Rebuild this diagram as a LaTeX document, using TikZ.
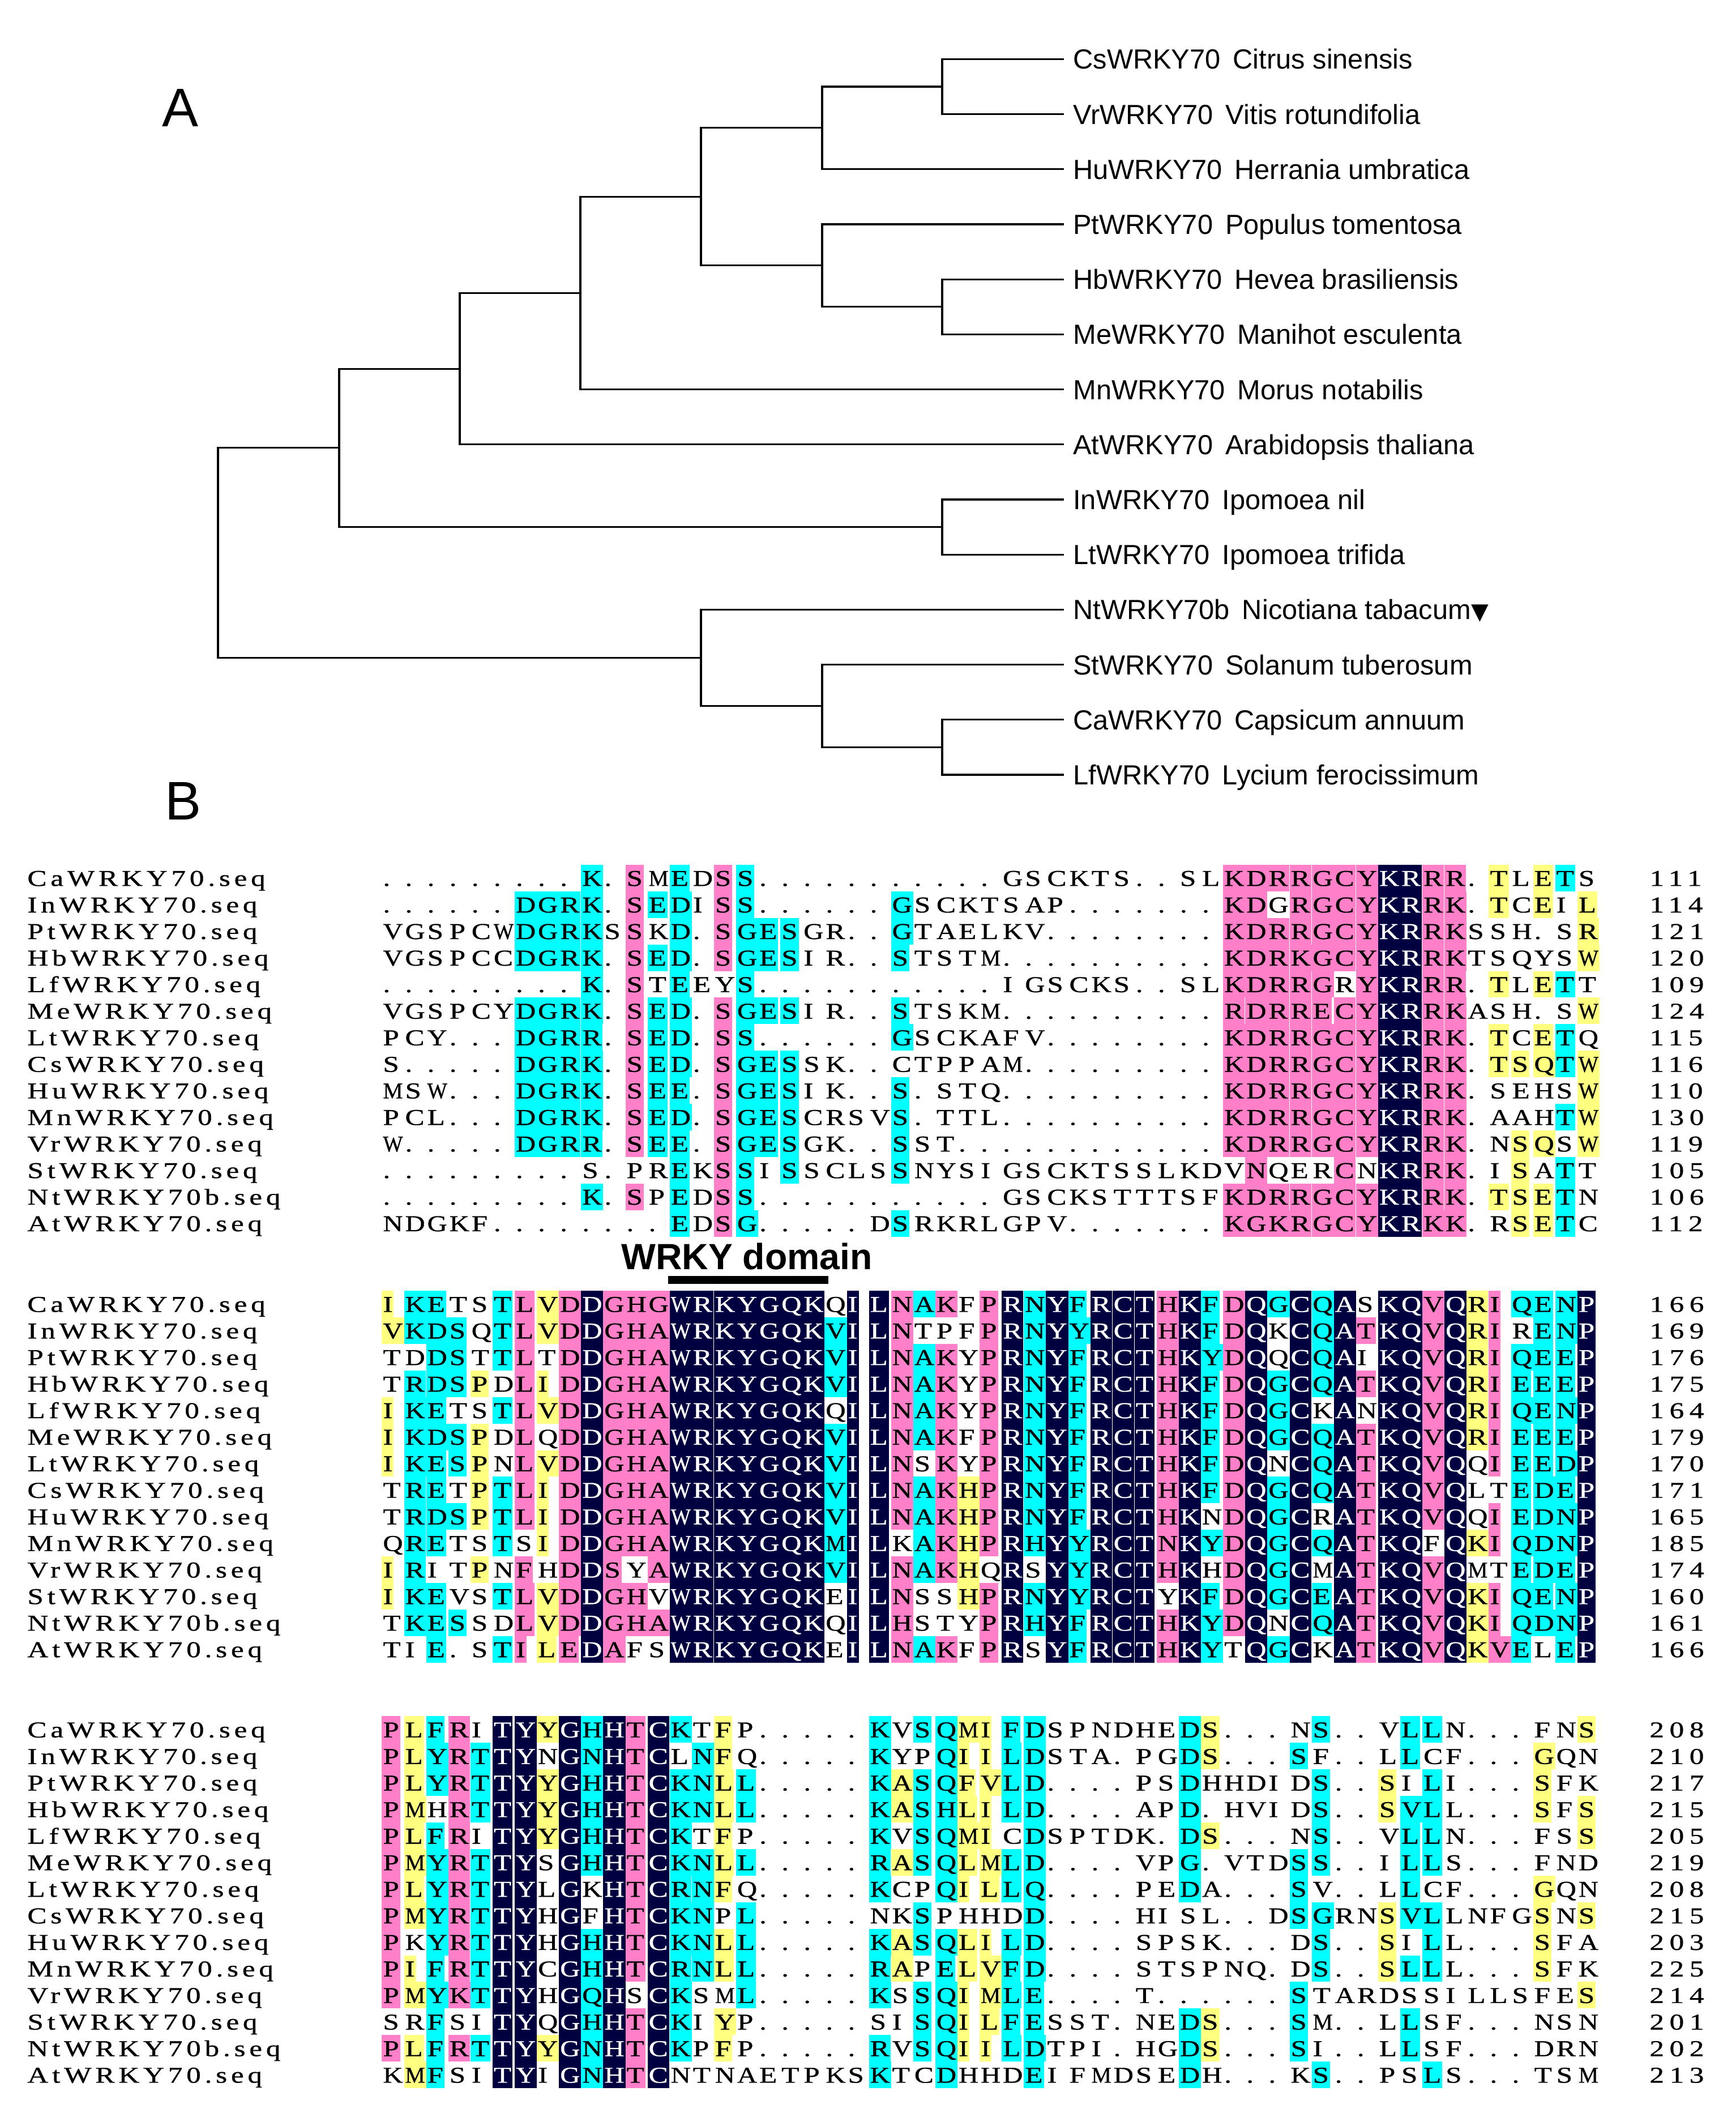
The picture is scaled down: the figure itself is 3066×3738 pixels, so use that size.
\documentclass[tikz,border=0pt]{standalone}
\usepackage{fontspec}
\setmainfont{Liberation Sans}
\newfontfamily\alfont[FakeStretch=1.28,FakeBold=0.8]{Liberation Serif}
\newfontfamily\alnamefont[FakeStretch=1.28,LetterSpace=17,FakeBold=0.8]{Liberation Serif}
\newfontfamily\alnumfont[FakeStretch=1.28,LetterSpace=24,FakeBold=0.8]{Liberation Serif}
\newfontfamily\symfont{DejaVu Sans}
\definecolor{aln}{RGB}{0,0,64}
\definecolor{alp}{RGB}{255,128,200}
\definecolor{alc}{RGB}{0,255,255}
\definecolor{aly}{RGB}{255,255,128}

\ExplSyntaxOn
\dim_new:N \l__al_colw_dim
\dim_new:N \l__al_bgw_dim
\box_new:N \l__al_glyph_box
\str_new:N \l__al_let_str
\str_new:N \l__al_cod_str
\dim_set:Nn \l__al_colw_dim { 19.55pt }
\cs_new_protected:Npn \__al_cell:nn #1#2
  {
    \hbox_set:Nn \l__al_glyph_box { #2 }
    \dim_compare:nNnT { \box_wd:N \l__al_glyph_box } > { 0.92 \l__al_colw_dim }
      {
        \box_scale:Nnn \l__al_glyph_box
          { \fp_eval:n { 0.90 * \dim_to_fp:n { \l__al_colw_dim } / \dim_to_fp:n { \box_wd:N \l__al_glyph_box } } }
          { 1 }
      }
    \dim_set:Nn \l__al_bgw_dim
      { \dim_min:nn { \box_wd:N \l__al_glyph_box + 2pt } { \l__al_colw_dim } }
    \hbox_to_wd:nn { \l__al_colw_dim }
      {
        \str_if_eq:nnF {#1} { - }
          {
            \group_begin:
            \color{al#1}
            \rule[-4.8pt]{\l__al_bgw_dim}{23.45pt}
            \group_end:
            \skip_horizontal:n { -\l__al_bgw_dim }
          }
        \skip_horizontal:n { 1pt }
        \group_begin:
        \str_if_eq:nnTF {#1} { n } { \color{white} } { \color{black} }
        \box_use:N \l__al_glyph_box
        \group_end:
        \hfil
      }
  }
\cs_generate_variant:Nn \__al_cell:nn { ee }
\NewDocumentCommand \alcells { m m }
  {
    \str_set:Nn \l__al_let_str {#1}
    \str_set:Nn \l__al_cod_str {#2}
    \str_remove_all:Nn \l__al_let_str { | }
    \str_remove_all:Nn \l__al_cod_str { | }
    \int_step_inline:nn { \str_count:N \l__al_let_str }
      {
        \__al_cell:ee { \str_item:Nn \l__al_cod_str {##1} } { \str_item:Nn \l__al_let_str {##1} }
      }
  }
\ExplSyntaxOff

\tikzset{
  br/.style={line width=1.6pt},
  leaf/.style={anchor=west, inner xsep=8pt, inner ysep=0pt, text height=17.5pt, text depth=0pt, font=\fontsize{24.4pt}{28pt}\selectfont},
  panel/.style={anchor=base west, inner sep=0pt, font=\fontsize{48pt}{56pt}\selectfont},
  alname/.style={anchor=base west, inner sep=0pt, font=\alnamefont\fontsize{20pt}{24pt}\selectfont},
  alseq/.style={anchor=base west, inner sep=0pt, font=\alfont\fontsize{20pt}{24pt}\selectfont},
  alnum/.style={anchor=base west, inner sep=0pt, font=\alnumfont\fontsize{20pt}{24pt}\selectfont},
  domaintext/.style={anchor=base west, inner sep=0pt, font=\bfseries\fontsize{32.2pt}{36pt}\selectfont},
  domainbar/.style={line width=7pt},
}
\newcommand\alrow[7]{%
  \node[alname] (nm#1#3) at (48,{#2+46.9*#3}) {#4};
  \node[alseq] (sq#1#3) at (674,{#2+46.9*#3}) {\alcells{#5}{#6}};
  \node[alnum] (nu#1#3) at (2913,{#2+46.9*#3}) {#7};
}
\def\ba{1564.2}
\def\bb{2316.4}
\def\bc{3067.7}
\newcommand\spgap{\hspace{0.45em}}

\begin{document}
\begin{tikzpicture}[x=0.5pt,y=-0.5pt]
\useasboundingbox (0,0) rectangle (3066,3738);
\fill[white] (0,0) rectangle (3066,3738);

% ---------------- Panel A: tree ----------------
\node[panel] (labA) at (286,223) {A};
\node[leaf] (Cs) at (1879,104.3) {CsWRKY70\spgap Citrus sinensis};
\node[leaf] (Vr) at (1879,201.5) {VrWRKY70\spgap Vitis rotundifolia};
\node[leaf] (Hu) at (1879,298.7) {HuWRKY70\spgap Herrania umbratica};
\node[leaf] (Pt) at (1879,395.9) {PtWRKY70\spgap Populus tomentosa};
\node[leaf] (Hb) at (1879,493.1) {HbWRKY70\spgap Hevea brasiliensis};
\node[leaf] (Me) at (1879,590.3) {MeWRKY70\spgap Manihot esculenta};
\node[leaf] (Mn) at (1879,687.5) {MnWRKY70\spgap Morus notabilis};
\node[leaf] (At) at (1879,784.7) {AtWRKY70\spgap Arabidopsis thaliana};
\node[leaf] (In) at (1879,881.9) {InWRKY70\spgap Ipomoea nil};
\node[leaf] (Lt) at (1879,979.1) {LtWRKY70\spgap Ipomoea trifida};
\node[leaf] (Nt) at (1879,1076.3) {NtWRKY70b\spgap Nicotiana tabacum{\symfont\fontsize{20pt}{24pt}\selectfont ▼}};
\node[leaf] (St) at (1879,1173.5) {StWRKY70\spgap Solanum tuberosum};
\node[leaf] (Ca) at (1879,1270.7) {CaWRKY70\spgap Capsicum annuum};
\node[leaf] (Lf) at (1879,1367.9) {LfWRKY70\spgap Lycium ferocissimum};

\coordinate (nCsVr) at (1664,152.9);
\coordinate (nCsVrHu) at (1452,225.8);
\coordinate (nHbMe) at (1664,541.7);
\coordinate (nPtHbMe) at (1452,468.8);
\coordinate (nA) at (1238,347.3);
\coordinate (nB) at (1025,517.4);
\coordinate (nC) at (812,651.1);
\coordinate (nInLt) at (1664,930.5);
\coordinate (nD) at (599,790.8);
\coordinate (nCaLf) at (1664,1319.3);
\coordinate (nStCaLf) at (1452,1246.4);
\coordinate (nNt) at (1238,1161.4);
\coordinate (root) at (385,976.1);

\draw[br] (nCsVr) |- (Cs.west);
\draw[br] (nCsVr) |- (Vr.west);
\draw[br] (nCsVrHu) |- (nCsVr);
\draw[br] (nCsVrHu) |- (Hu.west);
\draw[br] (nHbMe) |- (Hb.west);
\draw[br] (nHbMe) |- (Me.west);
\draw[br] (nPtHbMe) |- (Pt.west);
\draw[br] (nPtHbMe) |- (nHbMe);
\draw[br] (nA) |- (nCsVrHu);
\draw[br] (nA) |- (nPtHbMe);
\draw[br] (nB) |- (nA);
\draw[br] (nB) |- (Mn.west);
\draw[br] (nC) |- (nB);
\draw[br] (nC) |- (At.west);
\draw[br] (nInLt) |- (In.west);
\draw[br] (nInLt) |- (Lt.west);
\draw[br] (nD) |- (nC);
\draw[br] (nD) |- (nInLt);
\draw[br] (nCaLf) |- (Ca.west);
\draw[br] (nCaLf) |- (Lf.west);
\draw[br] (nStCaLf) |- (St.west);
\draw[br] (nStCaLf) |- (nCaLf);
\draw[br] (nNt) |- (Nt.west);
\draw[br] (nNt) |- (nStCaLf);
\draw[br] (root) |- (nD);
\draw[br] (root) |- (nNt);

% ---------------- Panel B: alignment ----------------
\node[panel] (labB) at (291,1447) {B};

\alrow{a}{\ba}{0}{CaWRKY70.seq}{.........K|.SMEDSS...|........GS|CKTS..SLKD|RRGCYKRRR.|TLETS}{---------c|-p-c-pc---|----------|--------pp|pppppnnpp-|y-yc-}{111}
\alrow{a}{\ba}{1}{InWRKY70.seq}{......DGRK|.SEDISS...|...GSCKTSA|P.......KD|GRGCYKRRK.|TCEIL}{------cccc|-pcc-pc---|---c------|--------pp|-ppppnnpp-|y-y-y}{114}
\alrow{a}{\ba}{2}{PtWRKY70.seq}{VGSPCWDGRK|SSKD.SGESG|R..GTAELKV|........KD|RRGCYKRRKS|SH.SR}{------cccc|-p-c-pccc-|---c------|--------pp|pppppnnpp-|----y}{121}
\alrow{a}{\ba}{3}{HbWRKY70.seq}{VGSPCCDGRK|.SED.SGESI|R..STSTM..|........KD|RKGCYKRRKT|SQYSW}{------cccc|-pcc-pccc-|---c------|--------pp|pppppnnpp-|----y}{120}
\alrow{a}{\ba}{4}{LfWRKY70.seq}{.........K|.STEEYS...|........IG|SCKS..SLKD|RRGRYKRRR.|TLETT}{---------c|-p-c--c---|----------|--------pp|ppp-pnnpp-|y-yc-}{109}
\alrow{a}{\ba}{5}{MeWRKY70.seq}{VGSPCYDGRK|.SED.SGESI|R..STSKM..|........RD|RRECYKRRKA|SH.SW}{------cccc|-pcc-pccc-|---c------|--------pp|pppppnnpp-|----y}{124}
\alrow{a}{\ba}{6}{LtWRKY70.seq}{PCY...DGRR|.SED.SS...|...GSCKAFV|........KD|RRGCYKRRK.|TCETQ}{------cccc|-pcc-pc---|---c------|--------pp|pppppnnpp-|y-yc-}{115}
\alrow{a}{\ba}{7}{CsWRKY70.seq}{S.....DGRK|.SED.SGESS|K..CTPPAM.|........KD|RRGCYKRRK.|TSQTW}{------cccc|-pcc-pccc-|----------|--------pp|pppppnnpp-|yyycy}{116}
\alrow{a}{\ba}{8}{HuWRKY70.seq}{MSW...DGRK|.SEE.SGESI|K..S.STQ..|........KD|RRGCYKRRK.|SEHSW}{------cccc|-pcc-pccc-|---c------|--------pp|pppppnnpp-|----y}{110}
\alrow{a}{\ba}{9}{MnWRKY70.seq}{PCL...DGRK|.SED.SGESC|RSVS.TTL..|........KD|RRGCYKRRK.|AAHTW}{------cccc|-pcc-pccc-|---c------|--------pp|pppppnnpp-|---cy}{130}
\alrow{a}{\ba}{10}{VrWRKY70.seq}{W.....DGRR|.SEE.SGESG|K..SST....|........KD|RRGCYKRRK.|NSQSW}{------cccc|-pcc-pccc-|---c------|--------pp|pppppnnpp-|-yy-y}{119}
\alrow{a}{\ba}{11}{StWRKY70.seq}{.........S|.PREKSSISS|CLSSNYSIGS|CKTSSLKDVN|QERCNKRRK.|ISATT}{----------|---c-pc-c-|---c------|---------p|---p-nnpp-|-y-c-}{105}
\alrow{a}{\ba}{12}{NtWRKY70b.seq}{.........K|.SPEDSS...|........GS|CKSTTTSFKD|RRGCYKRRK.|TSETN}{---------c|-p-c-pc---|----------|--------pp|pppppnnpp-|yyyc-}{106}
\alrow{a}{\ba}{13}{AtWRKY70.seq}{NDGKF.....|...EDSG...|..DSRKRLGP|V.......KG|KRGCYKRKK.|RSETC}{----------|---c-pc---|---c------|--------pp|pppppnnpp-|-yyc-}{112}

\node[domaintext] (wrky) at (1097,2241) {WRKY domain};
\coordinate (barL) at (1180,2260);
\coordinate (barR) at (1463,2260);
\draw[domainbar] (barL) -- (barR);

\alrow{b}{\bb}{0}{CaWRKY70.seq}{IKETSTLVDD|GHGWRKYGQK|QILNAKFPRN|YFRCTHKFDQ|GCQASKQVQR|IQENP}{ycc--cpypn|pppnnnnnnn|-nnpcp-pnc|ncnnnpncpn|cncn-nnpny|pcccn}{166}
\alrow{b}{\bb}{1}{InWRKY70.seq}{VKDSQTLVDD|GHAWRKYGQK|VILNTPFPRN|YYRCTHKFDQ|KCQATKQVQR|IRENP}{yccc-cpypn|pppnnnnnnn|cnnp---pnc|ncnnnpncpn|-ncnpnnpny|p-ccn}{169}
\alrow{b}{\bb}{2}{PtWRKY70.seq}{TDDSTTLTDD|GHAWRKYGQK|VILNAKYPRN|YFRCTHKYDQ|QCQAIKQVQR|IQEEP}{--cc-cp-pn|pppnnnnnnn|cnnpcp-pnc|ncnnnpncpn|-ncn-nnpny|pcccn}{176}
\alrow{b}{\bb}{3}{HbWRKY70.seq}{TRDSPDLIDD|GHAWRKYGQK|VILNAKYPRN|YFRCTHKFDQ|GCQATKQVQR|IEEEP}{-cccy-pypn|pppnnnnnnn|cnnpcp-pnc|ncnnnpncpn|cncnpnnpny|pcccn}{175}
\alrow{b}{\bb}{4}{LfWRKY70.seq}{IKETSTLVDD|GHAWRKYGQK|QILNAKYPRN|YFRCTHKFDQ|GCKANKQVQR|IQENP}{ycc--cpypn|pppnnnnnnn|-nnpcp-pnc|ncnnnpncpn|cn-n-nnpny|pcccn}{164}
\alrow{b}{\bb}{5}{MeWRKY70.seq}{IKDSPDLQDD|GHAWRKYGQK|VILNAKFPRN|YFRCTHKFDQ|GCQATKQVQR|IEEEP}{ycccy-p-pn|pppnnnnnnn|cnnpcp-pnc|ncnnnpncpn|cncnpnnpny|pcccn}{179}
\alrow{b}{\bb}{6}{LtWRKY70.seq}{IKESPNLVDD|GHAWRKYGQK|VILNSKYPRN|YFRCTHKFDQ|NCQATKQVQQ|IEEDP}{ycccy-pypn|pppnnnnnnn|cnnp-p-pnc|ncnnnpncpn|-ncnpnnpn-|pcccn}{170}
\alrow{b}{\bb}{7}{CsWRKY70.seq}{TRETPTLIDD|GHAWRKYGQK|VILNAKHPRN|YFRCTHKFDQ|GCQATKQVQL|TEDEP}{-cc-ycpypn|pppnnnnnnn|cnnpcpypnc|ncnnnpncpn|cncnpnnpn-|-cccn}{171}
\alrow{b}{\bb}{8}{HuWRKY70.seq}{TRDSPTLIDD|GHAWRKYGQK|VILNAKHPRN|YFRCTHKNDQ|GCRATKQVQQ|IEDNP}{-cccycpypn|pppnnnnnnn|cnnpcpypnc|ncnnnpn-pn|cn-npnnpn-|pcccn}{165}
\alrow{b}{\bb}{9}{MnWRKY70.seq}{QRETSTSIDD|GHAWRKYGQK|MILKAKHPRH|YYRCTNKYDQ|GCQATKQFQK|IQDNP}{-cc--c-ypn|pppnnnnnnn|cnn-cpypnc|ncnnnpncpn|cncnpnn-ny|pcccn}{185}
\alrow{b}{\bb}{10}{VrWRKY70.seq}{IRITPNFHDD|SYAWRKYGQK|VILNAKHQRS|YYRCTHKHDQ|GCMATKQVQM|TEDEP}{yc--y-p-pn|p-pnnnnnnn|cnnpcpy-n-|ncnnnpn-pn|cn-npnnpn-|-cccn}{174}
\alrow{b}{\bb}{11}{StWRKY70.seq}{IKEVSTLVDD|GHVWRKYGQK|EILNSSHPRN|YYRCTYKFDQ|GCEATKQVQK|IQENP}{ycc--cpypn|pp-nnnnnnn|-nnp--ypnc|ncnnn-ncpn|cncnpnnpny|pcccn}{160}
\alrow{b}{\bb}{12}{NtWRKY70b.seq}{TKESSDLVDD|GHAWRKYGQK|QILHSTYPRH|YFRCTHKYDQ|NCQATKQVQK|IQDNP}{-ccc--pypn|pppnnnnnnn|-nnp---pnc|ncnnnpncpn|-ncnpnnpny|pcccn}{161}
\alrow{b}{\bb}{13}{AtWRKY70.seq}{TIE.STILED|AFSWRKYGQK|EILNAKFPRS|YFRCTHKYTQ|GCKATKQVQK|VELEP}{--c--cpypn|p--nnnnnnn|-nnpcp-pn-|ncnnnpnc-n|cn-npnnpny|pc-cn}{166}

\alrow{c}{\bc}{0}{CaWRKY70.seq}{PLFRITYYGH|HTCKTFP...|..KVSQMIFD|SPNDHEDS..|.NS..VLLN.|..FNS}{pycp-nnync|npnc-y----|--c-ccyycc|------cy--|--c---cc--|----y}{208}
\alrow{c}{\bc}{1}{InWRKY70.seq}{PLYRTTYNGN|HTCLNFQ...|..KYPQIILD|STA.PGDS..|.SF..LLCF.|..GQN}{pycpcnn-nc|npn-cy----|--c--cyycc|------cy--|-c----c---|--y--}{210}
\alrow{c}{\bc}{2}{PtWRKY70.seq}{PLYRTTYYGH|HTCKNLL...|..KASQFVLD|....PSDHHD|IDS..SILI.|..SFK}{pycpcnnync|npnccyc---|--cyccyycc|------c---|--c--y-c--|--y--}{217}
\alrow{c}{\bc}{3}{HbWRKY70.seq}{PMHRTTYYGH|HTCKNLL...|..KASHLILD|....APD.HV|IDS..SVLL.|..SFS}{py-pcnnync|npnccyc---|--cyccyycc|------c---|--c--ycc--|--y-y}{215}
\alrow{c}{\bc}{4}{LfWRKY70.seq}{PLFRITYYGH|HTCKTFP...|..KVSQMICD|SPTDK.DS..|.NS..VLLN.|..FSS}{pycp-nnync|npnc-y----|--c-ccyy-c|------cy--|--c---cc--|----y}{205}
\alrow{c}{\bc}{5}{MeWRKY70.seq}{PMYRTTYSGH|HTCKNLL...|..RASQLMLD|....VPG.VT|DSS..ILLS.|..FND}{pycpcnn-nc|npnccyc---|--cyccyycc|------c---|-cc---cc--|-----}{219}
\alrow{c}{\bc}{6}{LtWRKY70.seq}{PLYRTTYLGK|HTCRNFQ...|..KCPQILLQ|....PEDA..|.SV..LLCF.|..GQN}{pycpcnn-n-|npnccy----|--c--cyycc|------c---|-c----c---|--y--}{208}
\alrow{c}{\bc}{7}{CsWRKY70.seq}{PMYRTTYHGF|HTCKNPL...|..NKSPHHDD|....HISL..|DSGRNSVLLN|FGSNS}{pycpcnn-n-|npncc-c---|----c----c|----------|-cc--ycc--|--y-y}{215}
\alrow{c}{\bc}{8}{HuWRKY70.seq}{PKYRTTYHGH|HTCKNLL...|..KASQLILD|....SPSK..|.DS..SILL.|..SFA}{p-cpcnn-nc|npnccyc---|--cyccyycc|----------|--c--y-c--|--y--}{203}
\alrow{c}{\bc}{9}{MnWRKY70.seq}{PIFRTTYCGH|HTCRNLL...|..RAPELVFD|....STSPNQ|.DS..SLLL.|..SFK}{pycpcnn-nc|npnccyc---|--cy-cyycc|----------|--c--ycc--|--y--}{225}
\alrow{c}{\bc}{10}{VrWRKY70.seq}{PMYKTTYHGQ|HSCKSML...|..KSSQIMLE|....T.....|.STARDSSIL|LSFES}{pycpcnn-nc|n-nc--c---|--c-ccyycc|----------|-c--------|----y}{214}
\alrow{c}{\bc}{11}{StWRKY70.seq}{SRFSITYQGH|HTCKIYP...|..SISQILFE|SST.NEDS..|.SM..LLSF.|..NSN}{--c--nn-nc|npnc-y----|----ccyycc|------cy--|-c----c---|-----}{201}
\alrow{c}{\bc}{12}{NtWRKY70b.seq}{PLFRTTYYGN|HTCKPFP...|..RVSQIILD|TPI.HGDS..|.SI..LLSF.|..DRN}{pycpcnnync|npnc-y----|--c-ccyycc|------cy--|-c----c---|-----}{202}
\alrow{c}{\bc}{13}{AtWRKY70.seq}{KMFSITYIGN|HTCNTNAETP|KSKTCDHHDE|IFMDSEDH..|.KS..PSLS.|..TSM}{-yc--nn-nc|npn-------|--c--c---c|------c---|--c----c--|-----}{213}
\end{tikzpicture}
\end{document}
